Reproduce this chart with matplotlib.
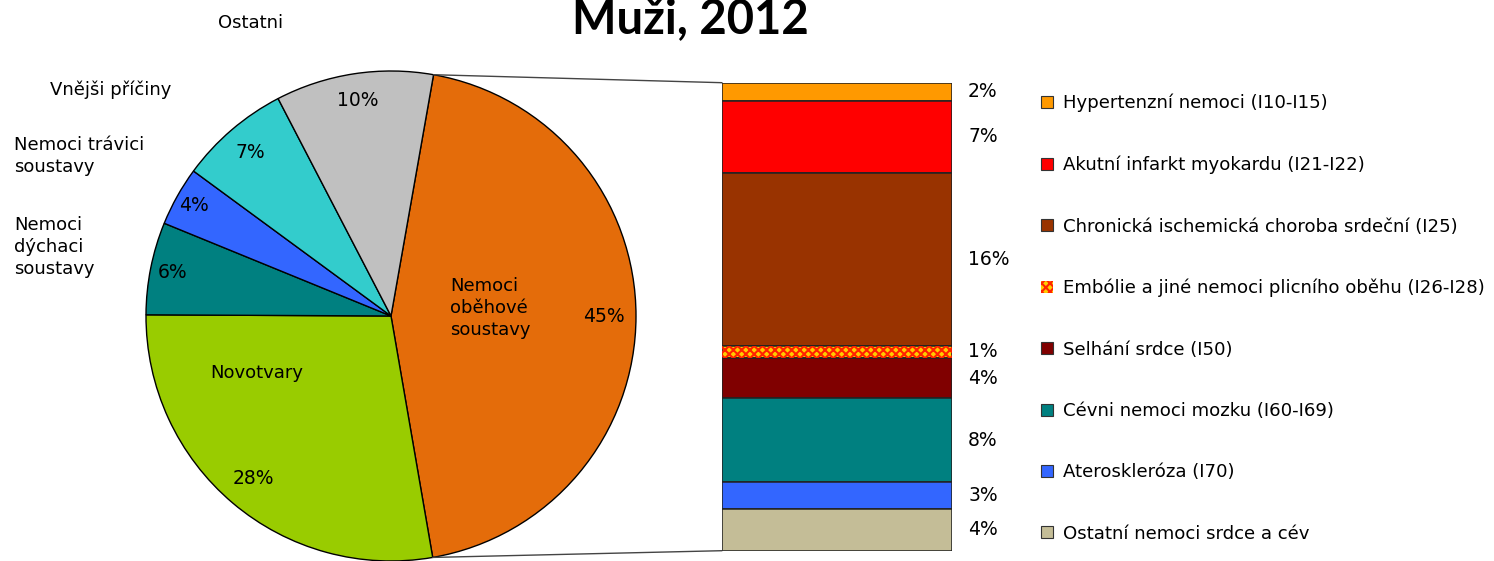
import numpy as np
import matplotlib
matplotlib.use('Agg')
import matplotlib.pyplot as plt
from matplotlib.patches import Patch, ConnectionPatch

# data
pie_names = ['Nemoci\noběhové\nsoustavy', 'Novotvary', 'Nemoci\ndýchaci\nsoustavy',
             'Nemoci trávici\nsoustavy', 'Vnějši příčiny', 'Ostatni']
pie_vals = [44.5, 27.8, 6.1, 3.9, 7.3, 10.4]
pie_pct = ['45%', '28%', '6%', '4%', '7%', '10%']
pie_colors = ['#E46C0A', '#99CC00', '#008080', '#3366FF', '#33CCCC', '#C0C0C0']

bar_names = ['Hypertenzní nemoci (I10-I15)', 'Akutní infarkt myokardu (I21-I22)',
             'Chronická ischemická choroba srdeční (I25)',
             'Embólie a jiné nemoci plicního oběhu (I26-I28)', 'Selhání srdce (I50)',
             'Cévni nemoci mozku (I60-I69)', 'Ateroskleróza (I70)', 'Ostatní nemoci srdce a cév']
bar_vals = [1.7, 6.9, 16.4, 1.2, 3.8, 8.0, 2.5, 4.0]
bar_pct = ['2%', '7%', '16%', '1%', '4%', '8%', '3%', '4%']
bar_colors = ['#FF9900', '#FF0000', '#993300', '#FFCC00', '#800000', '#008080', '#3366FF', '#C4BD97']

W, H = 1494, 561
plt.rcParams['font.family'] = ['DejaVu Sans']
plt.rcParams['hatch.color'] = '#FF2200'
plt.rcParams['hatch.linewidth'] = 1.5

def fx(x):
    return x / W

def fy(y):
    return 1 - y / H

fig = plt.figure(figsize=(W / 100, H / 100), dpi=100)

# pie
cx, cy, R = 391, 316, 245
lim = 1.03
half = R * lim
ax_pie = fig.add_axes([fx(cx - half), fy(cy + half), 2 * half / W, 2 * half / H])
wedges, _ = ax_pie.pie(pie_vals, colors=pie_colors, startangle=80, counterclock=False,
                       wedgeprops=dict(edgecolor='black', linewidth=1))
ax_pie.set_xlim(-lim, lim)
ax_pie.set_ylim(-lim, lim)
ax_pie.set_aspect('equal')

pct_dist = [0.87, 0.87, 0.91, 0.92, 0.88, 0.89]
for w, lab, d in zip(wedges, pie_pct, pct_dist):
    a = np.deg2rad((w.theta1 + w.theta2) / 2)
    ax_pie.text(d * np.cos(a), d * np.sin(a), lab, ha='center', va='center', fontsize=13.5)

# category names
name_pos = [(450, 308), (210, 373), (14, 247), (14, 156), (50, 90), (218, 23)]
for name, (x, y) in zip(pie_names, name_pos):
    fig.text(fx(x), fy(y), name, ha='left', va='center', fontsize=13, linespacing=1.3)

# bar
ax_bar = fig.add_axes([fx(722), fy(550.7), 230 / W, (550.7 - 82.7) / H])
bottoms = np.concatenate([[0], np.cumsum(bar_vals)[:-1]])
ax_bar.bar(0, bar_vals, bottom=bottoms, width=1, color=bar_colors,
           edgecolor='#222222', linewidth=1.1)
emb = 3
ax_bar.bar(0, bar_vals[emb], bottom=bottoms[emb], width=1, facecolor='none', hatch='xxxx',
           linewidth=0)
ax_bar.set_xlim(-0.5, 0.5)
ax_bar.set_ylim(sum(bar_vals), 0)
ax_bar.axis('off')

for b, v, lab in zip(bottoms, bar_vals, bar_pct):
    ax_bar.text(1.07, b + v / 2, lab, transform=ax_bar.get_yaxis_transform(),
                ha='left', va='center', fontsize=13.5)

# connection lines
t_top = np.deg2rad(wedges[0].theta2)
t_bot = np.deg2rad(wedges[0].theta1)
for t, yb in [(t_top, 1), (t_bot, 0)]:
    con = ConnectionPatch(xyA=(np.cos(t), np.sin(t)), coordsA=ax_pie.transData,
                          xyB=(0, yb), coordsB=ax_bar.transAxes, color='#444444', lw=1)
    fig.add_artist(con)

# legend
handles = []
for i, c in enumerate(bar_colors):
    if i == emb:
        handles.append(Patch(facecolor=c, hatch='xxxx'))
    else:
        handles.append(Patch(facecolor=c, edgecolor='#333333', linewidth=0.8))
fig.legend(handles, bar_names, loc='upper left', bbox_to_anchor=(fx(1041), fy(94)),
           frameon=False, fontsize=13.1, labelspacing=2.38, handlelength=0.65,
           handleheight=0.65, handletextpad=0.55, borderpad=0, borderaxespad=0)

fig.text(fx(690), fy(33), 'Muži, 2012', ha='center', va='baseline', fontsize=34,
         fontweight='bold', family=['Lato', 'DejaVu Sans'])

fig.savefig('out.png', dpi=100)
